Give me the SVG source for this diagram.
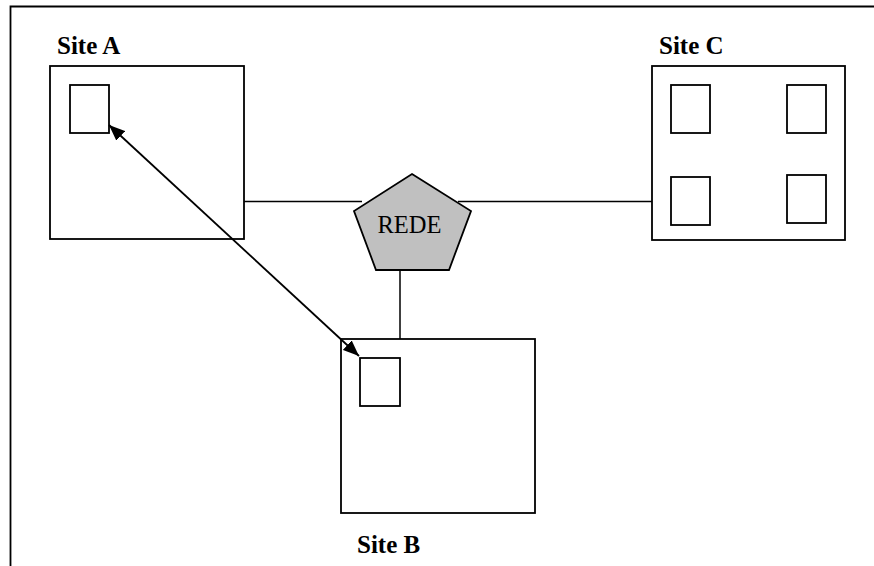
<svg xmlns="http://www.w3.org/2000/svg" width="874" height="566" viewBox="0 0 874 566">
  <style>
    .box { fill: #fff; stroke: #000; stroke-width: 1.8; }
    .link { stroke: #000; stroke-width: 1.5; fill: none; }
    .arrow-link { stroke: #000; stroke-width: 1.8; fill: none; }
    .label { font-family: "Liberation Serif", "Times New Roman", serif; font-size: 25px; font-weight: bold; fill: #000; }
    .net-text { font-family: "Liberation Serif", "Times New Roman", serif; font-size: 24.5px; fill: #000; }
  </style>
  <defs>
    <marker id="arrow" viewBox="0 0 16 13" refX="16" refY="6.5" markerWidth="16" markerHeight="13" markerUnits="userSpaceOnUse" orient="auto-start-reverse">
      <path d="M0,0 L16,6.5 L0,13 Z" fill="#000"/>
    </marker>
  </defs>
  <rect width="874" height="566" fill="#fff"/>

  <!-- page frame -->
  <path d="M10.5,566 L10.5,6.5 L874,6.5" fill="none" stroke="#000" stroke-width="1.8"/>

  <g id="site-a">
    <text class="label" x="57" y="54">Site A</text>
    <rect class="box" x="50" y="66" width="194" height="173"/>
    <rect class="box" x="70" y="85" width="39" height="48"/>
  </g>

  <g id="site-c">
    <text class="label" x="659" y="54">Site C</text>
    <rect class="box" x="652" y="66" width="193" height="174"/>
    <rect class="box" x="671" y="85" width="39" height="48"/>
    <rect class="box" x="787" y="85" width="39" height="48"/>
    <rect class="box" x="671" y="177" width="39" height="48"/>
    <rect class="box" x="787" y="175" width="39" height="48"/>
  </g>

  <g id="site-b">
    <rect class="box" x="341" y="339" width="194" height="174"/>
    <rect class="box" x="360" y="358" width="40" height="48"/>
    <text class="label" x="357" y="553">Site B</text>
  </g>

  <g id="rede">
    <polygon points="412,174 471,211 449,270 376,270 354,211" fill="#c0c0c0" stroke="#000" stroke-width="1.8"/>
    <text class="net-text" x="409.5" y="233" text-anchor="middle">REDE</text>
  </g>

  <!-- connectors -->
  <g id="connectors">
    <line class="link" x1="244" y1="201.5" x2="362" y2="201.5"/>
    <line class="link" x1="458" y1="201.5" x2="652" y2="201.5"/>
    <line class="link" x1="400" y1="270" x2="400" y2="339"/>
    <line class="arrow-link" x1="109" y1="125" x2="359" y2="356" marker-start="url(#arrow)" marker-end="url(#arrow)"/>
  </g>
</svg>
